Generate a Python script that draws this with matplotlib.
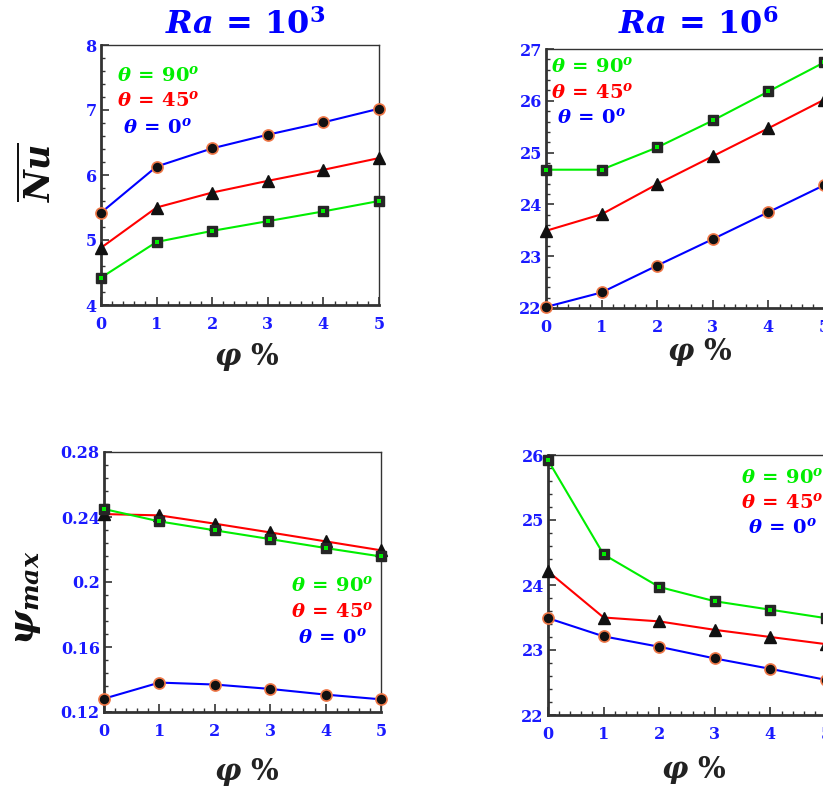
import matplotlib
matplotlib.use("Agg")
import matplotlib.pyplot as plt
from matplotlib.ticker import AutoMinorLocator, FixedLocator

# données
phi = [0, 1, 2, 3, 4, 5]

nu_ra3_90 = [4.42, 4.97, 5.14, 5.29, 5.44, 5.60]
nu_ra3_45 = [4.88, 5.50, 5.73, 5.91, 6.08, 6.26]
nu_ra3_0 = [5.42, 6.13, 6.41, 6.62, 6.81, 7.02]

nu_ra6_90 = [24.67, 24.67, 25.10, 25.62, 26.18, 26.74]
nu_ra6_45 = [23.49, 23.81, 24.39, 24.93, 25.47, 26.02]
nu_ra6_0 = [22.02, 22.30, 22.82, 23.33, 23.85, 24.37]

psi_ra3_90 = [0.2449, 0.2373, 0.2318, 0.2264, 0.2209, 0.2157]
psi_ra3_45 = [0.2418, 0.2410, 0.2359, 0.2305, 0.2250, 0.2195]
psi_ra3_0 = [0.1282, 0.1381, 0.1369, 0.1342, 0.1307, 0.1278]

psi_ra6_90 = [25.92, 24.47, 23.97, 23.75, 23.62, 23.49]
psi_ra6_45 = [24.21, 23.50, 23.44, 23.31, 23.20, 23.09]
psi_ra6_0 = [23.49, 23.21, 23.05, 22.87, 22.71, 22.54]

yticks_nu3 = [4, 5, 6, 7, 8]
yticks_nu6 = [22, 23, 24, 25, 26, 27]
yticks_psi3 = [0.12, 0.16, 0.2, 0.24, 0.28]
ytick_labels_psi3 = ["0.12", "0.16", "0.2", "0.24", "0.28"]
yticks_psi6 = [22, 23, 24, 25, 26]

plt.rcParams['mathtext.fontset'] = 'custom'
plt.rcParams['mathtext.rm'] = 'DejaVu Serif:bold'
plt.rcParams['mathtext.it'] = 'DejaVu Serif:bold:italic'
plt.rcParams['mathtext.bf'] = 'DejaVu Serif:bold'

W, H = 823, 791
fig = plt.figure(figsize=(W / 100, H / 100), dpi=100)

BLUE = "#0000ff"
RED = "#ff0000"
GREEN = "#00ee00"
TICK = "#1a1aff"


def px(x, y):
    return x / W, 1 - y / H


def make_ax(l, t, r, b):
    ax = fig.add_axes([l / W, 1 - b / H, (r - l) / W, (b - t) / H])
    return ax


def draw(ax, s90, s45, s0, ylim, yticks, ylabels=None):
    ax.plot(phi, s0, color=BLUE, lw=1.5, marker="o", ms=8,
            mfc="#111111", mec="#f07848", mew=1.2, zorder=3, clip_on=False)
    ax.plot(phi, s45, color=RED, lw=1.5, marker="^", ms=8,
            mfc="#111111", mec="#111111", zorder=3, clip_on=False)
    ax.plot(phi, s90, color=GREEN, lw=1.5, marker="s", ms=7.5,
            mfc="#262626", mec="#262626", mew=1, zorder=4, clip_on=False)
    # petit point vert au centre des carrés
    ax.plot(phi, s90, ls="none", marker="s", ms=2.2, mfc=GREEN, mec=GREEN,
            mew=0, zorder=5, clip_on=False)
    ax.set_xlim(0, 5)
    ax.set_ylim(*ylim)
    ax.xaxis.set_major_locator(FixedLocator(phi))
    ax.yaxis.set_major_locator(FixedLocator(yticks))
    if ylabels is not None:
        ax.set_yticklabels(ylabels)
    ax.xaxis.set_minor_locator(AutoMinorLocator(5))
    ax.yaxis.set_minor_locator(AutoMinorLocator(5))
    ax.tick_params(which="both", direction="in", top=False, right=False,
                   colors="#333333", labelcolor=TICK, labelsize=11.5)
    ax.tick_params(axis="x", which="major", pad=8)
    ax.tick_params(axis="y", which="major", pad=3)
    ax.tick_params(which="major", length=6, width=1.2)
    ax.tick_params(which="minor", length=3, width=1.0)
    for lab in ax.get_xticklabels() + ax.get_yticklabels():
        lab.set_family("DejaVu Serif")
        lab.set_fontweight("bold")
    for side in ["left", "bottom"]:
        ax.spines[side].set_linewidth(2.0)
        ax.spines[side].set_color("#333333")
    for side in ["top", "right"]:
        ax.spines[side].set_linewidth(1.0)
        ax.spines[side].set_color("#333333")


def legend(x90, y90, x45, y45, x0, y0):
    fig.text(*px(x90, y90), r"$\theta\,=\,90^o$", color=GREEN, fontsize=14, va="center")
    fig.text(*px(x45, y45), r"$\theta\,=\,45^o$", color=RED, fontsize=14, va="center")
    fig.text(*px(x0, y0), r"$\theta\,=\,0^o$", color=BLUE, fontsize=14, va="center")


ax1 = make_ax(101, 45, 379, 305)
draw(ax1, nu_ra3_90, nu_ra3_45, nu_ra3_0, (4, 8), yticks_nu3)
legend(117, 75, 117, 100, 123, 127)

ax2 = make_ax(546, 49, 824, 308)
draw(ax2, nu_ra6_90, nu_ra6_45, nu_ra6_0, (22, 27), yticks_nu6)
legend(551, 66, 551, 92, 557, 117)

ax3 = make_ax(104, 452, 381, 712)
draw(ax3, psi_ra3_90, psi_ra3_45, psi_ra3_0, (0.12, 0.28), yticks_psi3, ytick_labels_psi3)
legend(291, 585, 291, 611, 298, 637)

ax4 = make_ax(548, 455, 826, 715)
draw(ax4, psi_ra6_90, psi_ra6_45, psi_ra6_0, (22, 26), yticks_psi6)
legend(741, 477, 741, 502, 748, 527)

# titres
fig.text(*px(245, 25), r"$Ra\,=\,10^3$", color=BLUE, fontsize=23, ha="center", va="center")
fig.text(*px(698, 25), r"$Ra\,=\,10^6$", color=BLUE, fontsize=23, ha="center", va="center")

# axes x
for x, y in [(247, 357), (700, 352), (247, 772), (694, 770)]:
    fig.text(*px(x, y), r"$\varphi\ \%$", color="#222222", fontsize=21, ha="center", va="center")

# axes y
fig.text(*px(38, 172), r"$\overline{Nu}$", color="#111111", fontsize=25,
         rotation=90, ha="center", va="center")
fig.text(*px(26, 598), r"$\psi_{max}$", color="#111111", fontsize=26,
         rotation=90, ha="center", va="center")

fig.savefig("out.png", dpi=100)
